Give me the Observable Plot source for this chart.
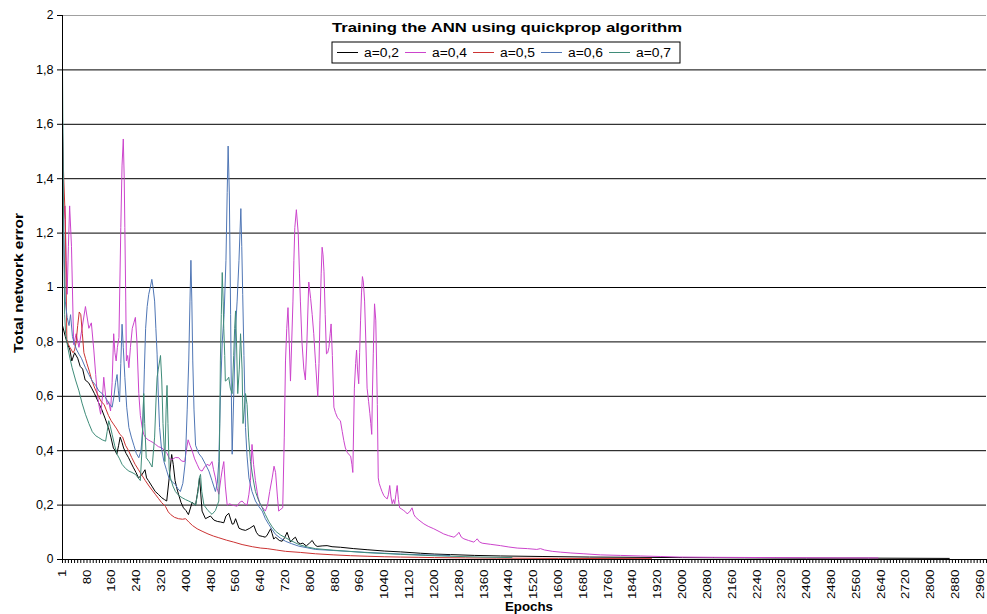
<!DOCTYPE html>
<html><head><meta charset="utf-8">
<script src="https://cdn.jsdelivr.net/npm/d3@7"></script>
<script src="https://cdn.jsdelivr.net/npm/@observablehq/plot@0.6"></script>
<style>
body{margin:0;background:#fff;}
#wrap{position:relative;width:987px;height:614px;font-family:"Liberation Sans",Arial,sans-serif;}
#overlay{position:absolute;left:0;top:0;pointer-events:none;}
</style></head><body><div id="wrap"></div>
<script>
const titleText = "Training the ANN using quickprop algorithm";
const xTitle = "Epochs";
const yTitle = "Total network error";
const seriesNames = ["a=0,2","a=0,4","a=0,5","a=0,6","a=0,7"];
const seriesColors = ["#000000","#cc44cc","#cc3333","#4f76b5","#3f8c79"];

const a02 = [[1,.86],[10,.82],[15,.80],[25,.77],[31,.73],[40,.76],[50,.74],[58,.71],[66,.70],[74,.66],
[85,.65],[95,.63],[104,.61],[112,.59],[120,.57],[128,.55],[138,.52],[149,.485],[157,.45],[165,.41],
[171,.40],[176,.387],[182,.42],[187,.45],[193,.43],[198,.41],[206,.39],[214,.374],[222,.355],[230,.337],
[238,.32],[246,.30],[256,.31],[267,.33],[272,.30],[278,.29],[289,.27],[300,.25],[310,.24],[321,.227],
[330,.22],[337,.215],[345,.30],[353,.386],[358,.35],[364,.29],[370,.26],[375,.24],[383,.21],[391,.19],
[399,.18],[407,.165],[419,.21],[430,.20],[437,.25],[443,.30],[451,.178],[462,.15],[470,.155],[478,.16],
[489,.145],[500,.14],[510,.138],[521,.135],[528,.16],[537,.17],[548,.13],[553,.131],[559,.15],[570,.115],
[580,.11],[591,.107],[605,.115],[618,.125],[626,.10],[634,.088],[645,.085],[655,.082],[661,.09],[672,.113],
[677,.095],[682,.075],[688,.082],[700,.07],[709,.067],[717,.08],[725,.10],[736,.064],[744,.075],[752,.082],
[760,.062],[768,.058],[776,.06],[787,.05],[797,.06],[806,.07],[814,.055],[822,.048],[838,.05],[854,.051],
[870,.047],[897,.045],[940,.040],[983,.036],[1040,.031],[1091,.028],[1155,.023],[1200,.02],[1252,.018],[1330,.015],
[1413,.013],[1550,.011],[1700,.009],[1850,.008],[2000,.007],[2200,.006],[2400,.005],[2600,.005],[2860,.004]];

const a04 = [[1,1.05],[5,1.25],[9,1.30],[13,1.1],[16,.975],[20,1.15],[24,1.30],[30,1.15],[37,.79],[45,.83],[54,.78],[64,.85],[75,.93],[86,.85],[94,.87],[102,.77],[108,.68],[113,.61],[118,.57],[124,.534],[130,.6],[134,.67],[140,.6],[145,.57],[150,.58],[156,.546],[161,.65],[166,.83],[170,.76],[174,.73],[178,.78],[183,.816],[189,1.22],[193,1.45],[197,1.546],[200,1.4],[202,1.22],[205,.95],[207,.73],[211,.75],[215,.705],[220,.78],[226,.85],[231,.87],[236,.89],[241,.80],[247,.61],[252,.53],[258,.485],[263,.46],[269,.448],[277,.44],[285,.435],[293,.43],[301,.423],[310,.415],[322,.41],[330,.40],[338,.39],[346,.37],[355,.368],[365,.375],[376,.374],[385,.362],[395,.36],[400,.40],[406,.44],[412,.42],[419,.40],[427,.37],[435,.35],[443,.33],[451,.325],[459,.34],[467,.35],[475,.345],[483,.36],[488,.33],[494,.30],[500,.26],[505,.24],[512,.30],[516,.33],[521,.36],[526,.27],[532,.20],[540,.205],[548,.20],[556,.198],[564,.196],[572,.21],[580,.215],[588,.205],[596,.20],[602,.24],[607,.29],[612,.423],[617,.35],[623,.29],[631,.23],[639,.20],[647,.19],[655,.178],[662,.2],[669,.25],[677,.30],[683,.343],[688,.32],[694,.23],[698,.178],[705,.185],[711,.19],[716,.45],[720,.73],[724,.85],[728,.926],[732,.8],[736,.656],[740,.8],[744,.95],[747,1.1],[750,1.22],[755,1.286],[761,1.2],[765,1.05],[768,.95],[773,.8],[779,.70],[784,.66],[789,.8],[795,1.02],[801,.96],[806,.9],[811,.83],[817,.72],[824,.60],[828,.72],[831,.88],[835,1.05],[838,1.148],[841,1.12],[844,1.06],[848,.9],[852,.756],[856,.76],[860,.78],[864,.83],[867,.866],[871,.75],[876,.56],[881,.54],[887,.523],[892,.515],[897,.51],[903,.47],[908,.437],[913,.41],[919,.394],[925,.385],[930,.38],[934,.35],[937,.32],[942,.63],[946,.72],[949,.77],[952,.70],[956,.646],[959,.76],[962,.88],[965,.98],[968,1.04],[971,1.02],[975,.95],[979,.8],[983,.63],[988,.58],[992,.536],[995,.50],[998,.46],[1000,.6],[1003,.756],[1007,.94],[1011,.88],[1014,.7],[1016,.57],[1019,.30],[1022,.28],[1026,.266],[1031,.25],[1037,.235],[1042,.228],[1048,.223],[1052,.24],[1056,.272],[1060,.23],[1064,.205],[1068,.22],[1072,.205],[1076,.24],[1080,.272],[1084,.22],[1088,.19],[1095,.185],[1101,.18],[1107,.175],[1112,.168],[1120,.175],[1128,.19],[1134,.165],[1139,.156],[1150,.145],[1166,.131],[1180,.122],[1198,.113],[1215,.103],[1230,.094],[1245,.088],[1263,.082],[1272,.09],[1279,.10],[1287,.082],[1295,.076],[1310,.07],[1327,.064],[1333,.07],[1338,.076],[1345,.065],[1354,.06],[1380,.056],[1413,.051],[1440,.046],[1467,.042],[1500,.04],[1530,.037],[1542,.04],[1555,.035],[1580,.03],[1607,.027],[1640,.024],[1682,.021],[1736,.017],[1800,.015],[1865,.013],[1930,.011],[1990,.009],[2100,.008],[2300,.007],[2500,.006],[2630,.006]];

const a05 = [[1,1.57],[5,1.4],[10,1.25],[15,.81],[20,.79],[25,.78],[30,.77],[35,.76],[40,.77],[45,.80],[50,.86],[55,.91],[60,.9],[65,.83],[70,.76],[75,.74],[80,.72],[88,.69],[95,.66],[105,.63],[117,.60],[126,.58],[135,.57],[142,.55],[149,.53],[158,.51],[167,.495],[176,.48],[186,.46],[195,.45],[204,.42],[214,.40],[224,.375],[235,.35],[246,.33],[257,.31],[268,.29],[280,.27],[290,.255],[300,.24],[310,.225],[320,.21],[333,.195],[342,.175],[350,.165],[362,.155],[375,.15],[388,.148],[398,.15],[408,.138],[420,.125],[435,.113],[451,.104],[470,.094],[488,.086],[505,.08],[530,.071],[553,.064],[580,.055],[613,.047],[640,.042],[661,.04],[690,.035],[720,.03],[768,.026],[817,.021],[876,.017],[930,.014],[983,.012],[1040,.01],[1091,.009],[1150,.008],[1200,.007],[1300,.006],[1400,.005],[1600,.004],[1900,.003]];

const a06 = [[1,1.63],[5,1.2],[10,.95],[16,.89],[22,.86],[27,.90],[33,.82],[40,.79],[47,.77],[54,.755],[62,.74],[75,.705],[86,.68],[97,.656],[108,.64],[118,.62],[129,.61],[140,.595],[150,.575],[161,.56],[167,.6],[172,.65],[177,.68],[181,.62],[185,.58],[189,.72],[193,.865],[197,.78],[202,.67],[208,.56],[215,.485],[223,.45],[231,.42],[239,.39],[247,.374],[254,.40],[260,.485],[265,.7],[269,.85],[274,.93],[279,.975],[284,1.0],[289,1.03],[293,1.0],[298,.95],[302,.85],[306,.755],[310,.6],[314,.485],[320,.41],[328,.36],[336,.33],[344,.30],[355,.285],[365,.276],[373,.26],[381,.25],[389,.28],[397,.36],[403,.55],[408,.73],[412,.95],[415,1.10],[418,.95],[421,.73],[425,.55],[430,.42],[440,.39],[451,.374],[462,.35],[473,.325],[483,.29],[494,.25],[500,.28],[505,.36],[510,.6],[516,.8],[522,.9],[528,1.10],[532,1.35],[535,1.52],[539,1.34],[543,.9],[546,.546],[548,.387],[553,.6],[559,.85],[564,.95],[570,1.10],[576,1.29],[579,1.15],[582,.975],[586,.75],[591,.485],[596,.38],[602,.30],[612,.25],[623,.215],[634,.195],[645,.178],[655,.15],[666,.129],[677,.11],[688,.092],[704,.078],[720,.067],[740,.058],[763,.049],[790,.043],[816,.037],[876,.033],[983,.026],[1091,.02],[1170,.017],[1250,.015]];

const a07 = [[1,1.82],[4,1.3],[8,.9],[11,.83],[18,.78],[25,.74],[32,.705],[43,.66],[54,.62],[64,.575],[75,.534],[86,.5],[97,.47],[108,.455],[118,.448],[129,.44],[140,.435],[145,.47],[150,.51],[155,.49],[161,.46],[169,.42],[177,.387],[185,.37],[193,.35],[204,.335],[215,.325],[225,.32],[236,.313],[245,.30],[252,.29],[257,.4],[261,.55],[263,.61],[266,.5],[271,.374],[280,.36],[290,.34],[298,.45],[303,.6],[306,.67],[310,.70],[317,.75],[321,.66],[325,.5],[331,.36],[335,.55],[338,.64],[341,.5],[345,.33],[349,.30],[357,.27],[365,.25],[376,.235],[387,.227],[398,.22],[408,.215],[420,.208],[430,.20],[438,.25],[442,.3],[446,.313],[450,.25],[457,.20],[470,.18],[483,.166],[494,.18],[505,.215],[508,.5],[510,.73],[513,.9],[516,1.055],[519,.95],[521,.85],[524,.75],[526,.656],[531,.66],[537,.67],[542,.63],[548,.61],[553,.75],[556,.85],[559,.914],[562,.8],[566,.61],[571,.7],[575,.83],[580,.7],[583,.5],[587,.55],[591,.61],[596,.57],[601,.45],[607,.36],[615,.3],[623,.25],[634,.215],[645,.19],[655,.165],[666,.14],[677,.12],[688,.104],[704,.09],[720,.08],[740,.068],[763,.055],[790,.046],[816,.04],[876,.034],[983,.025],[1091,.019],[1170,.015],[1250,.012],[1350,.009],[1450,.007]];

const yTicks = [0,0.2,0.4,0.6,0.8,1,1.2,1.4,1.6,1.8,2];
const xLabelTicks = [1,80,160,240,320,400,480,560,640,720,800,880,960,1040,1120,1200,1280,1360,1440,1520,1600,1680,1760,1840,1920,2000,2080,2160,2240,2320,2400,2480,2560,2640,2720,2800,2880,2960];
const xDomain = [1, 2980];

const seriesData = [a02, a04, a05, a06, a07];
const rows = seriesData.flatMap((arr, i) => arr.map(([epoch, error]) => ({series: seriesNames[i], epoch, error})));
const xMinorTicks = [1, ...d3.range(10, xDomain[1] + 1, 10)];
const labelSet = new Set(xLabelTicks);
const font = "Liberation Sans, Arial, sans-serif";

const chart = Plot.plot({
  width: 987, height: 614,
  marginLeft: 62, marginRight: 1, marginTop: 15, marginBottom: 55,
  style: {fontFamily: font, fontSize: "12px", color: "#000", background: "#fff", overflow: "visible"},
  x: {domain: xDomain},
  y: {domain: [0, 2]},
  color: {domain: seriesNames, range: seriesColors},
  marks: [
    Plot.ruleY(yTicks.filter(d => d > 0 && d < 2), {stroke: "#000", strokeWidth: 1}),
    Plot.ruleY([2], {stroke: "#a0a0a0", strokeWidth: 1}),
    Plot.lineY(rows, {x: "epoch", y: "error", z: "series", stroke: "series", strokeWidth: 1, curve: "linear"}),
    Plot.ruleX([xDomain[0]], {stroke: "#000", strokeWidth: 1}),
    Plot.ruleY([0], {stroke: "#000", strokeWidth: 1}),
    Plot.axisY({ticks: yTicks, tickFormat: d => String(d).replace(".", ","), tickSize: 5, tickPadding: 4, fontSize: 12, label: null}),
    Plot.axisX({ticks: xMinorTicks, tickFormat: d => labelSet.has(d) ? String(d) : "", tickSize: 4, tickPadding: 6, tickRotate: -90, fontSize: 11, label: null})
  ]
});
const wrap = document.getElementById("wrap");
wrap.appendChild(chart);

// widen tick labels like the reference's stretched font
d3.select(chart).selectAll('[aria-label*="x-axis tick label"] text').each(function () {
  const t = this.textContent;
  if (t) d3.select(this).attr("textLength", t.length * 7.4).attr("lengthAdjust", "spacingAndGlyphs");
});
d3.select(chart).selectAll('[aria-label*="y-axis tick label"] text').each(function () {
  const t = this.textContent;
  if (t) {
    const n = t.replace(",", "").length, c = t.includes(",") ? 1 : 0;
    d3.select(this).attr("textLength", n * 6.7 + c * 4.2).attr("lengthAdjust", "spacingAndGlyphs");
  }
});

// overlay: title, legend, axis titles
const ov = d3.select(wrap).append("svg").attr("id", "overlay").attr("width", 987).attr("height", 614)
  .style("font-family", font);
ov.append("text").attr("x", 507).attr("y", 32).attr("text-anchor", "middle")
  .attr("font-size", 13).attr("font-weight", "bold").attr("textLength", 350).attr("lengthAdjust", "spacingAndGlyphs")
  .text(titleText);
const lg = ov.append("g").attr("transform", "translate(332,42)");
lg.append("rect").attr("width", 348).attr("height", 21).attr("fill", "#fff").attr("stroke", "#000").attr("stroke-width", 1);
seriesNames.forEach((name, i) => {
  const g = lg.append("g").attr("transform", `translate(${5 + i * 68},0)`);
  g.append("line").attr("x1", 0).attr("x2", 21).attr("y1", 10.5).attr("y2", 10.5).attr("stroke", seriesColors[i]).attr("stroke-width", 1);
  g.append("text").attr("x", 27).attr("y", 15).attr("font-size", 12).attr("textLength", 35).attr("lengthAdjust", "spacingAndGlyphs").text(name);
});
ov.append("text").attr("x", 529).attr("y", 611).attr("text-anchor", "middle")
  .attr("font-size", 12).attr("font-weight", "bold").attr("textLength", 48).attr("lengthAdjust", "spacingAndGlyphs").text(xTitle);
ov.append("text").attr("transform", "translate(23,283) rotate(-90)").attr("text-anchor", "middle")
  .attr("font-size", 13).attr("font-weight", "bold").attr("textLength", 140).attr("lengthAdjust", "spacingAndGlyphs").text(yTitle);
</script></body></html>
